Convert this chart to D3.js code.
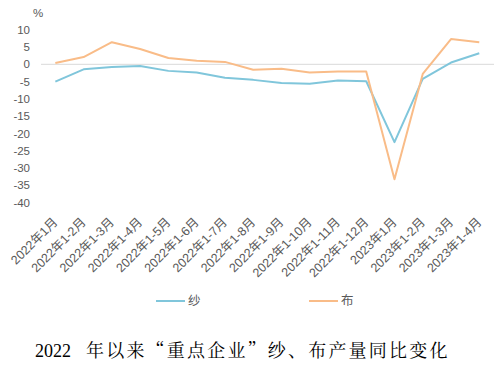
<!DOCTYPE html>
<html><head><meta charset="utf-8">
<script src="https://cdn.jsdelivr.net/npm/d3@7/dist/d3.min.js"></script>
<style>
body{margin:0;background:#fff;}
svg{display:block;}
</style></head>
<body>
<script>
const categories = ["2022年1月","2022年1-2月","2022年1-3月","2022年1-4月","2022年1-5月","2022年1-6月","2022年1-7月","2022年1-8月","2022年1-9月","2022年1-10月","2022年1-11月","2022年1-12月","2023年1月","2023年1-2月","2023年1-3月","2023年1-4月"];
const yarn = [-5.0,-1.45,-0.8,-0.5,-1.9,-2.4,-3.9,-4.5,-5.4,-5.6,-4.7,-4.9,-22.5,-4.2,0.5,3.2];
const cloth = [0.4,2.1,6.4,4.4,1.8,1.0,0.7,-1.6,-1.3,-2.4,-2.1,-2.1,-33.2,-2.8,7.3,6.4];
const yTicks = [10,5,0,-5,-10,-15,-20,-25,-30,-35,-40];
const seriesNames = ["纱","布"];
const colors = ["#80c6db","#f9bc88"];
const titleYear = "2022";
const titleRest = "年以来“重点企业”纱、布产量同比变化";

const W=500,H=380;
const svg=d3.select("body").append("svg").attr("width",W).attr("height",H);
const x=d3.scalePoint().domain(categories).range([41.2,493.4]).padding(0.5);
const y=d3.scaleLinear().domain([-40,10]).range([202.7,29.7]);
const font="'Liberation Sans','DejaVu Sans',sans-serif";
const cjk="'Liberation Sans','Noto Sans CJK SC',sans-serif";

// y labels
svg.append("g").selectAll("text").data(yTicks).join("text")
  .attr("x",30).attr("y",d=>y(d)).attr("dy","0.35em")
  .attr("text-anchor","end").attr("font-family",font).attr("font-size",11.5)
  .attr("fill","#595959").text(d=>d);
svg.append("text").attr("x",33).attr("y",17).attr("font-family",font)
  .attr("font-size",11.5).attr("fill","#595959").text("%");

// zero line
svg.append("line").attr("x1",41).attr("x2",494).attr("y1",y(0)).attr("y2",y(0))
  .attr("stroke","#d9d9d9").attr("stroke-width",1);

// x labels
svg.append("g").selectAll("text").data(categories).join("text")
  .attr("transform",d=>`translate(${x(d)+3},${223}) rotate(-45)`)
  .attr("text-anchor","end").attr("font-family",cjk).attr("font-size",12.5)
  .attr("fill","#595959").text(d=>d);

// lines
const line=d3.line().x((d,i)=>x(categories[i])).y(d=>y(d));
[yarn,cloth].forEach((s,k)=>{
  svg.append("path").datum(s).attr("d",line).attr("fill","none")
    .attr("stroke",colors[k]).attr("stroke-width",2).attr("stroke-linejoin","round");
});

// legend
const lg=[{x:156},{x:309}];
lg.forEach((p,k)=>{
  svg.append("line").attr("x1",p.x).attr("x2",p.x+29).attr("y1",301).attr("y2",301)
    .attr("stroke",colors[k]).attr("stroke-width",2);
  svg.append("text").attr("x",p.x+32).attr("y",301).attr("dy","0.35em")
    .attr("font-family",cjk).attr("font-size",12.5).attr("fill","#595959").text(seriesNames[k]);
});

// title
const tf="'Noto Serif CJK SC','Liberation Serif','Noto Sans CJK SC',serif";
svg.append("text").attr("x",35).attr("y",357).attr("font-family","'Liberation Serif',serif")
  .attr("font-size",18).attr("fill","#000").text(titleYear);
svg.append("text").attr("x",86).attr("y",357).attr("font-family",tf)
  .attr("font-size",18).attr("letter-spacing",2.2).attr("fill","#000").text(titleRest);
</script>
</body></html>
